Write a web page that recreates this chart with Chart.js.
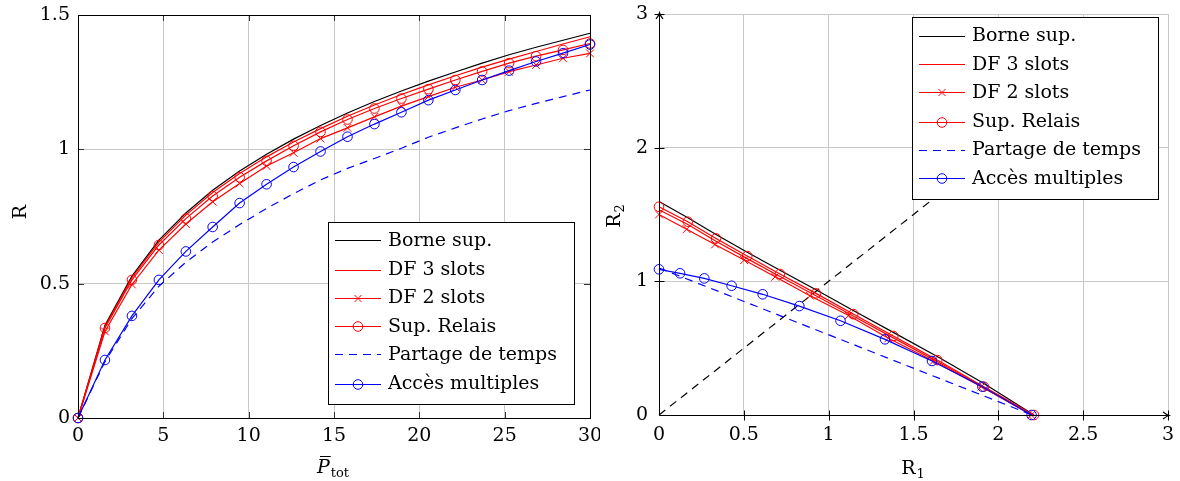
<!DOCTYPE html>
<html>
<head>
<meta charset="utf-8">
<script src="https://cdn.jsdelivr.net/npm/chart.js@4.4.0/dist/chart.umd.min.js"></script>
<style>
    html, body { margin: 0; padding: 0; background: #fff; }
    #wrap { position: relative; width: 1180px; height: 481px; }
    #leftBox { position: absolute; left: 0; top: 0; width: 600px; height: 481px; }
    #rightBox { position: absolute; left: 600px; top: 0; width: 580px; height: 481px; }
</style>
</head>
<body>
<div id="wrap">
    <div id="leftBox"><canvas id="leftChart" width="600" height="481"></canvas></div>
    <div id="rightBox"><canvas id="rightChart" width="580" height="481"></canvas></div>
</div>
<script>
// ---- left panel: R vs P_tot ----
const pTot = [0, 1.58, 3.16, 4.74, 6.32, 7.89, 9.47, 11.05, 12.63, 14.21, 15.79, 17.37, 18.95, 20.53, 22.11, 23.68, 25.26, 26.84, 28.42, 30];
const borneSup = [0, 0.345, 0.528, 0.662, 0.763, 0.848, 0.919, 0.982, 1.038, 1.089, 1.135, 1.178, 1.217, 1.254, 1.288, 1.321, 1.352, 1.380, 1.406, 1.432];
const df3Slots = [0, 0.340, 0.522, 0.655, 0.755, 0.839, 0.910, 0.972, 1.027, 1.077, 1.123, 1.165, 1.204, 1.240, 1.274, 1.306, 1.336, 1.364, 1.392, 1.419];
const df2Slots = [0, 0.322, 0.497, 0.625, 0.722, 0.805, 0.873, 0.938, 0.987, 1.040, 1.080, 1.121, 1.161, 1.196, 1.231, 1.258, 1.289, 1.314, 1.339, 1.357];
const supRelais = [0, 0.335, 0.514, 0.644, 0.742, 0.826, 0.896, 0.957, 1.013, 1.065, 1.111, 1.152, 1.189, 1.224, 1.258, 1.290, 1.321, 1.347, 1.370, 1.394];
const partageTemps = [0, 0.210, 0.370, 0.490, 0.580, 0.655, 0.720, 0.780, 0.835, 0.886, 0.929, 0.966, 1.004, 1.045, 1.080, 1.113, 1.144, 1.171, 1.196, 1.221];
const accesMultiples = [0, 0.216, 0.380, 0.514, 0.620, 0.711, 0.800, 0.870, 0.934, 0.992, 1.047, 1.094, 1.138, 1.183, 1.221, 1.258, 1.293, 1.327, 1.358, 1.390];
const leftXTicks = [0, 5, 10, 15, 20, 25, 30];
const leftYTicks = [0, 0.5, 1, 1.5];

// ---- right panel: rate region R2 vs R1 ----
const r1Borne = [0, 0.17, 0.336, 0.52, 0.713, 0.925, 1.145, 1.381, 1.64, 1.915, 2.21];
const r2Borne = [1.597, 1.475, 1.35, 1.218, 1.083, 0.937, 0.782, 0.618, 0.438, 0.235, 0];
const r1Df3 = [0, 0.17, 0.336, 0.52, 0.713, 0.925, 1.145, 1.381, 1.64, 1.915, 2.2];
const r2Df3 = [1.535, 1.425, 1.30, 1.17, 1.036, 0.892, 0.74, 0.577, 0.40, 0.205, 0];
const r1Df2 = [0, 0.163, 0.33, 0.502, 0.685, 0.89, 1.118, 1.352, 1.618, 1.9, 2.195];
const r2Df2 = [1.50, 1.39, 1.276, 1.159, 1.034, 0.892, 0.745, 0.574, 0.404, 0.212, 0];
const r1Relais = [0, 0.17, 0.336, 0.52, 0.713, 0.925, 1.145, 1.381, 1.64, 1.915, 2.21];
const r2Relais = [1.558, 1.446, 1.321, 1.189, 1.055, 0.91, 0.755, 0.591, 0.411, 0.212, 0];
const r1Partage = [0, 2.2];
const r2Partage = [1.1, 0];
const r1Acces = [0, 0.124, 0.267, 0.428, 0.611, 0.827, 1.07, 1.332, 1.609, 1.906, 2.196];
const r2Acces = [1.09, 1.06, 1.022, 0.967, 0.903, 0.815, 0.705, 0.566, 0.404, 0.212, 0];
const diagR = [0, 2];
const rightXTicks = [0, 0.5, 1, 1.5, 2, 2.5, 3];
const rightYTicks = [0, 1, 2, 3];

const GRID = '#c8c8c8';
const FONT = '"DejaVu Serif", serif';
const DASH = [8, 6];
const RED = '#ff0000';
const BLUE = '#0000ff';
const BLACK = '#000000';
const LINE_W = 1.2;

// legend rows, same order for both panels
const legendRows = [
    { label: 'Borne sup.', color: BLACK, dash: [], mark: null },
    { label: 'DF 3 slots', color: RED, dash: [], mark: null },
    { label: 'DF 2 slots', color: RED, dash: [], mark: 'crossRot' },
    { label: 'Sup. Relais', color: RED, dash: [], mark: 'circle' },
    { label: 'Partage de temps', color: BLUE, dash: DASH, mark: null },
    { label: 'Accès multiples', color: BLUE, dash: [], mark: 'circle' }
];

function pts(xs, ys) {
    return xs.map((x, i) => ({ x: x, y: ys[i] }));
}

function series(row, xs, ys, order) {
    const mark = row.mark;
    return {
        label: row.label,
        data: pts(xs, ys),
        borderColor: row.color,
        backgroundColor: 'transparent',
        borderWidth: LINE_W,
        borderDash: row.dash,
        pointStyle: mark || 'circle',
        pointRadius: mark ? (mark === 'crossRot' ? 5.5 : 4.8) : 0,
        pointHoverRadius: 0,
        pointBorderColor: row.color,
        pointBackgroundColor: 'transparent',
        pointBorderWidth: 1,
        tension: 0,
        clip: false,
        order: order
    };
}

function fixedScale(ticks, min, max, size, isX, pad) {
    return {
        type: 'linear',
        min: min,
        max: max,
        afterBuildTicks: (s) => { s.ticks = ticks.map(v => ({ value: v })); },
        afterFit: (s) => {
            if (isX) s.height = size; else s.width = size;
            s.paddingLeft = 0; s.paddingRight = 0; s.paddingTop = 0; s.paddingBottom = 0;
        },
        grid: { color: GRID, lineWidth: 1, drawTicks: false },
        border: { display: false },
        ticks: {
            color: '#000',
            padding: pad,
            autoSkip: false,
            maxRotation: 0,
            font: { family: FONT, size: 19 },
            callback: (v) => String(v)
        }
    };
}

// text with a subscript, centered on cx at baseline by
function drawSubText(ctx, main, sub, cx, by, italic) {
    ctx.font = (italic ? 'italic ' : '') + '19px ' + FONT;
    const w1 = ctx.measureText(main).width;
    ctx.font = '13px ' + FONT;
    const w2 = ctx.measureText(sub).width;
    const x0 = cx - (w1 + w2 + 1) / 2;
    ctx.fillStyle = '#000';
    ctx.textAlign = 'left';
    ctx.textBaseline = 'alphabetic';
    ctx.font = (italic ? 'italic ' : '') + '19px ' + FONT;
    ctx.fillText(main, x0, by);
    ctx.font = '13px ' + FONT;
    ctx.fillText(sub, x0 + w1 + 1, by + 4);
    return { x0: x0, w1: w1 };
}

function drawLegend(ctx, left, top) {
    const w = 246, h = 182, rowH = 28.5;
    left = Math.round(left);
    top = Math.round(top);
    ctx.save();
    ctx.setLineDash([]);
    ctx.fillStyle = '#fff';
    ctx.fillRect(left, top, w, h);
    ctx.strokeStyle = BLACK;
    ctx.lineWidth = 1;
    ctx.strokeRect(left + 0.5, top + 0.5, w, h);
    legendRows.forEach((row, i) => {
        const yText = top + 19.5 + i * rowH;
        // keep the thin sample line on one even pixel row so its colour stays clean
        const y = Math.floor(yText / 2) * 2 + 0.5;
        const x0 = left + 7, x1 = left + 53, xm = (x0 + x1) / 2;
        ctx.strokeStyle = row.color;
        ctx.lineWidth = 1;
        ctx.setLineDash(row.dash);
        ctx.beginPath();
        ctx.moveTo(x0, y);
        ctx.lineTo(x1, y);
        ctx.stroke();
        ctx.setLineDash([]);
        if (row.mark === 'circle') {
            ctx.beginPath();
            ctx.arc(xm, y, 4.8, 0, 2 * Math.PI);
            ctx.stroke();
        } else if (row.mark === 'crossRot') {
            ctx.beginPath();
            ctx.moveTo(xm - 3.5, y - 3.5); ctx.lineTo(xm + 3.5, y + 3.5);
            ctx.moveTo(xm - 3.5, y + 3.5); ctx.lineTo(xm + 3.5, y - 3.5);
            ctx.stroke();
        }
        ctx.fillStyle = BLACK;
        ctx.font = '19px ' + FONT;
        ctx.textAlign = 'left';
        ctx.textBaseline = 'middle';
        ctx.fillText(row.label, left + 60, yText);
    });
    ctx.restore();
}

const leftDecor = {
    id: 'leftDecor',
    afterDatasetsDraw(chart) {
        const { ctx, chartArea: a, scales: { x, y } } = chart;
        ctx.save();
        ctx.setLineDash([]);
        ctx.strokeStyle = '#333';
        ctx.lineWidth = 1;
        ctx.beginPath();
        leftXTicks.slice(1, -1).forEach(v => {
            const px = Math.round(x.getPixelForValue(v)) + 0.5;
            ctx.moveTo(px, a.bottom); ctx.lineTo(px, a.bottom - 6);
            ctx.moveTo(px, a.top); ctx.lineTo(px, a.top + 6);
        });
        leftYTicks.slice(1, -1).forEach(v => {
            const py = Math.round(y.getPixelForValue(v)) + 0.5;
            ctx.moveTo(a.left, py); ctx.lineTo(a.left + 6, py);
            ctx.moveTo(a.right, py); ctx.lineTo(a.right - 6, py);
        });
        ctx.stroke();
        ctx.strokeStyle = BLACK;
        ctx.strokeRect(a.left + 0.5, a.top + 0.5, a.right - a.left, a.bottom - a.top);
        ctx.restore();
    },
    afterDraw(chart) {
        const { ctx, chartArea: a } = chart;
        ctx.save();
        // x title: P bar, subscript tot
        const t = drawSubText(ctx, 'P', 'tot', 333, 473, true);
        ctx.strokeStyle = BLACK;
        ctx.lineWidth = 1;
        ctx.beginPath();
        ctx.moveTo(t.x0 + 3, 456.5);
        ctx.lineTo(t.x0 + t.w1 + 1, 456.5);
        ctx.stroke();
        // y title
        ctx.translate(26, 212);
        ctx.rotate(-Math.PI / 2);
        ctx.font = '19px ' + FONT;
        ctx.textAlign = 'center';
        ctx.textBaseline = 'alphabetic';
        ctx.fillStyle = BLACK;
        ctx.fillText('R', 0, 0);
        ctx.restore();
        drawLegend(ctx, a.right - 16 - 246, a.bottom - 14 - 182);
    }
};

const rightDecor = {
    id: 'rightDecor',
    afterDatasetsDraw(chart) {
        const { ctx, scales: { x, y } } = chart;
        const x0 = Math.round(x.getPixelForValue(0)) + 0.5;
        const y0 = Math.round(y.getPixelForValue(0)) + 0.5;
        const xEnd = x.getPixelForValue(3) + 1;
        const yEnd = y.getPixelForValue(3) - 1;
        ctx.save();
        ctx.setLineDash([]);
        ctx.strokeStyle = BLACK;
        ctx.lineWidth = 1;
        ctx.beginPath();
        ctx.moveTo(x0, y0); ctx.lineTo(xEnd, y0);
        ctx.moveTo(x0, y0); ctx.lineTo(x0, yEnd);
        rightXTicks.slice(1).forEach(v => {
            const px = Math.round(x.getPixelForValue(v)) + 0.5;
            ctx.moveTo(px, y0 - 5); ctx.lineTo(px, y0 + 5);
        });
        rightYTicks.slice(1).forEach(v => {
            const py = Math.round(y.getPixelForValue(v)) + 0.5;
            ctx.moveTo(x0 - 5, py); ctx.lineTo(x0 + 5, py);
        });
        ctx.stroke();
        // arrow heads
        ctx.lineWidth = 1.2;
        ctx.beginPath();
        ctx.moveTo(xEnd - 6, y0 - 3.5); ctx.quadraticCurveTo(xEnd - 2, y0 - 0.5, xEnd, y0);
        ctx.quadraticCurveTo(xEnd - 2, y0 + 0.5, xEnd - 6, y0 + 3.5);
        ctx.moveTo(x0 - 3.5, yEnd + 6); ctx.quadraticCurveTo(x0 - 0.5, yEnd + 2, x0, yEnd);
        ctx.quadraticCurveTo(x0 + 0.5, yEnd + 2, x0 + 3.5, yEnd + 6);
        ctx.stroke();
        ctx.restore();
    },
    afterDraw(chart) {
        const { ctx, chartArea: a } = chart;
        ctx.save();
        drawSubText(ctx, 'R', '1', 313, 474, false);
        ctx.translate(20, 216);
        ctx.rotate(-Math.PI / 2);
        drawSubText(ctx, 'R', '2', 0, 0, false);
        ctx.restore();
        drawLegend(ctx, a.right - 10 - 246, a.top + 3);
    }
};

function chartOptions(xScale, yScale, pad) {
    return {
        responsive: false,
        animation: false,
        devicePixelRatio: 1,
        layout: { padding: pad },
        plugins: { legend: { display: false }, tooltip: { enabled: false } },
        events: [],
        scales: { x: xScale, y: yScale }
    };
}

new Chart(document.getElementById('leftChart'), {
    type: 'line',
    data: {
        datasets: [
            series(legendRows[0], pTot, borneSup, 5),
            series(legendRows[1], pTot, df3Slots, 4),
            series(legendRows[2], pTot, df2Slots, 3),
            series(legendRows[3], pTot, supRelais, 2),
            series(legendRows[4], pTot, partageTemps, 1),
            series(legendRows[5], pTot, accesMultiples, 0)
        ]
    },
    options: chartOptions(
        fixedScale(leftXTicks, 0, 30, 63, true, 7),
        fixedScale(leftYTicks, 0, 1.5, 78, false, 8),
        { left: 0, right: 10, top: 15, bottom: 0 }
    ),
    plugins: [leftDecor]
});

new Chart(document.getElementById('rightChart'), {
    type: 'line',
    data: {
        datasets: [
            series(legendRows[0], r1Borne, r2Borne, 5),
            series(legendRows[1], r1Df3, r2Df3, 4),
            series(legendRows[2], r1Df2, r2Df2, 3),
            series(legendRows[3], r1Relais, r2Relais, 2),
            series(legendRows[4], r1Partage, r2Partage, 1),
            series(legendRows[5], r1Acces, r2Acces, 0),
            series({ label: 'diagonale', color: BLACK, dash: DASH, mark: null }, diagR, diagR, 9)
        ]
    },
    options: chartOptions(
        fixedScale(rightXTicks, 0, 3, 66, true, 9),
        fixedScale(rightYTicks, 0, 3, 59, false, 11),
        { left: 0, right: 12, top: 14, bottom: 0 }
    ),
    plugins: [rightDecor]
});
</script>
</body>
</html>
